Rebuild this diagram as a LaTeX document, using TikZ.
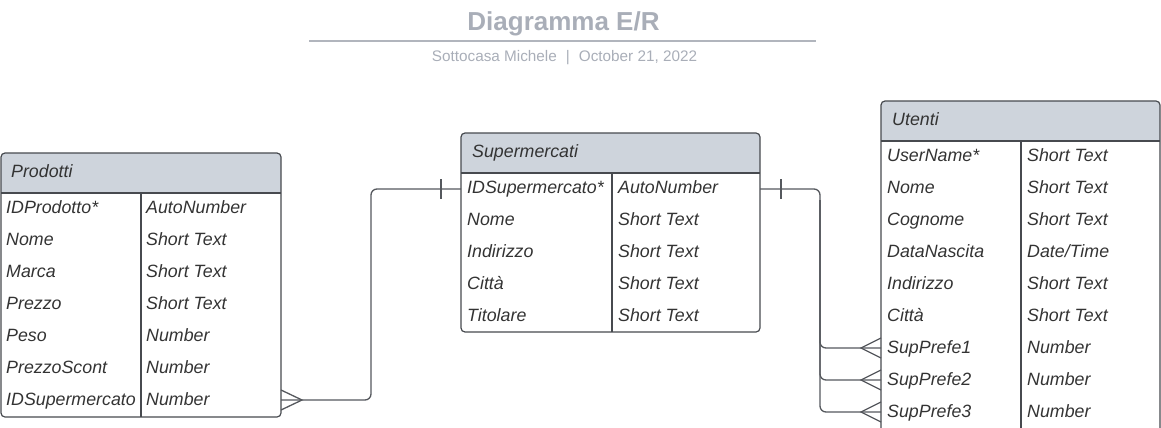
\documentclass[tikz,border=0pt]{standalone}
\usepackage{fontspec}
\setmainfont{Liberation Sans}
\usepackage{xcolor}
\usepackage{tikz}
\usetikzlibrary{calc}
\definecolor{headgray}{HTML}{CED4DC}
\definecolor{framegray}{HTML}{474A4F}
\definecolor{linkgray}{HTML}{55585D}
\definecolor{txtgray}{HTML}{333333}
\definecolor{titlegray}{HTML}{A9AEB8}
\definecolor{rulegray}{HTML}{B1B5BD}
\tikzset{table frame/.style={draw=framegray,line width=1.2pt,rounded corners=4pt},frame line/.style={draw=framegray,line width=1.2pt},head fill/.style={fill=headgray,rounded corners=4pt},field/.style={anchor=west,inner sep=0pt,text height=12.7pt,text depth=0pt,text=txtgray,font=\fontsize{17.8}{20}\selectfont\itshape},link/.style={draw=linkgray,line width=1.3pt},link corner/.style={link,rounded corners=6pt},title label/.style={anchor=base,text=titlegray,font=\fontsize{26}{30}\selectfont\bfseries},sub label/.style={anchor=base,text=titlegray,font=\fontsize{15.3}{18}\selectfont}}

\begin{document}
\begin{tikzpicture}[x=1pt,y=-1pt]
	\clip (0,0) rectangle (1161,428);
	\node[title label] (title) at (563.5,31) {Diagramma E/R};
	\coordinate (RA) at (309,41);
	\coordinate (RB) at (816,41);
	\draw[draw=rulegray,line width=2pt] (RA) -- (RB);
	\node[sub label] (sub) at (564.5,61.5) {Sottocasa Michele\hspace{9pt}|\hspace{9pt}October 21, 2022};
	\coordinate (PA) at (1,153);
	\coordinate (PB) at (281,417);
	\fill[head fill] (PA) rectangle (281,200);
	\fill[white] (1,193) rectangle (281,201);
	\draw[table frame] (PA) rectangle (PB);
	\draw[frame line] (1,193) -- (281,193);
	\draw[frame line] (141,193) -- (141,417);
	\node[field] (ph) at (11,171) {Prodotti};
	\node[field] (pa1) at (6,207) {IDProdotto*}; \node[field] (pd1) at (146,207) {AutoNumber};
	\node[field] (pa2) at (6,239) {Nome}; \node[field] (pd2) at (146,239) {Short Text};
	\node[field] (pa3) at (6,271) {Marca}; \node[field] (pd3) at (146,271) {Short Text};
	\node[field] (pa4) at (6,303) {Prezzo}; \node[field] (pd4) at (146,303) {Short Text};
	\node[field] (pa5) at (6,335) {Peso}; \node[field] (pd5) at (146,335) {Number};
	\node[field] (pa6) at (6,367) {PrezzoScont}; \node[field] (pd6) at (146,367) {Number};
	\node[field] (pa7) at (6,399) {IDSupermercato}; \node[field] (pd7) at (146,399) {Number};
	\coordinate (SA) at (461,133);
	\coordinate (SB) at (760,332);
	\fill[head fill] (SA) rectangle (760,180);
	\fill[white] (461,173) rectangle (760,181);
	\draw[table frame] (SA) rectangle (SB);
	\draw[frame line] (461,173) -- (760,173);
	\draw[frame line] (612,173) -- (612,332);
	\node[field] (sh) at (472,151) {Supermercati};
	\node[field] (sa1) at (467,187) {IDSupermercato*}; \node[field] (sd1) at (618,187) {AutoNumber};
	\node[field] (sa2) at (467,219) {Nome}; \node[field] (sd2) at (618,219) {Short Text};
	\node[field] (sa3) at (467,251) {Indirizzo}; \node[field] (sd3) at (618,251) {Short Text};
	\node[field] (sa4) at (467,283) {Città}; \node[field] (sd4) at (618,283) {Short Text};
	\node[field] (sa5) at (467,315) {Titolare}; \node[field] (sd5) at (618,315) {Short Text};
	\coordinate (UA) at (881,101);
	\coordinate (UB) at (1160,445);
	\fill[head fill] (UA) rectangle (1160,148);
	\fill[white] (881,141) rectangle (1160,149);
	\draw[table frame] (UA) rectangle (UB);
	\draw[frame line] (881,141) -- (1160,141);
	\draw[frame line] (1021,141) -- (1021,445);
	\node[field] (uh) at (892,119) {Utenti};
	\node[field] (ua1) at (887,155) {UserName*}; \node[field] (ud1) at (1027,155) {Short Text};
	\node[field] (ua2) at (887,187) {Nome}; \node[field] (ud2) at (1027,187) {Short Text};
	\node[field] (ua3) at (887,219) {Cognome}; \node[field] (ud3) at (1027,219) {Short Text};
	\node[field] (ua4) at (887,251) {DataNascita}; \node[field] (ud4) at (1027,251) {Date/Time};
	\node[field] (ua5) at (887,283) {Indirizzo}; \node[field] (ud5) at (1027,283) {Short Text};
	\node[field] (ua6) at (887,315) {Città}; \node[field] (ud6) at (1027,315) {Short Text};
	\node[field] (ua7) at (887,347) {SupPrefe1}; \node[field] (ud7) at (1027,347) {Number};
	\node[field] (ua8) at (887,379) {SupPrefe2}; \node[field] (ud8) at (1027,379) {Number};
	\node[field] (ua9) at (887,411) {SupPrefe3}; \node[field] (ud9) at (1027,411) {Number};
	\coordinate (pk) at (281,400);
	\coordinate (sk) at (461,189);
	\coordinate (sr) at (760,189);
	\coordinate (sj) at (820,189);
	\coordinate (sv) at (820,200);
	\coordinate (uk1) at (881,348);
	\coordinate (uk2) at (881,380);
	\coordinate (uk3) at (881,412);
	\draw[link corner] (pk) -| ($(pk)!0.5!(sk)$) |- (sk);
	\draw[link] ($(pk)+(0,-10)$) -- ($(pk)+(21,0)$) -- ($(pk)+(0,10)$);
	\draw[link] ($(sk)+(-20,-10)$) -- ($(sk)+(-20,10)$);
	\draw[link corner] (sr) -- (sj) |- (uk1);
	\draw[link corner] (sv) |- (uk2);
	\draw[link corner] (sv) |- (uk3);
	\draw[link] ($(sr)+(21,-10)$) -- ($(sr)+(21,10)$);
	\draw[link] ($(uk1)+(0,-10)$) -- ($(uk1)+(-20,0)$) -- ($(uk1)+(0,10)$);
	\draw[link] ($(uk2)+(0,-10)$) -- ($(uk2)+(-20,0)$) -- ($(uk2)+(0,10)$);
	\draw[link] ($(uk3)+(0,-10)$) -- ($(uk3)+(-20,0)$) -- ($(uk3)+(0,10)$);
\end{tikzpicture}
\end{document}
